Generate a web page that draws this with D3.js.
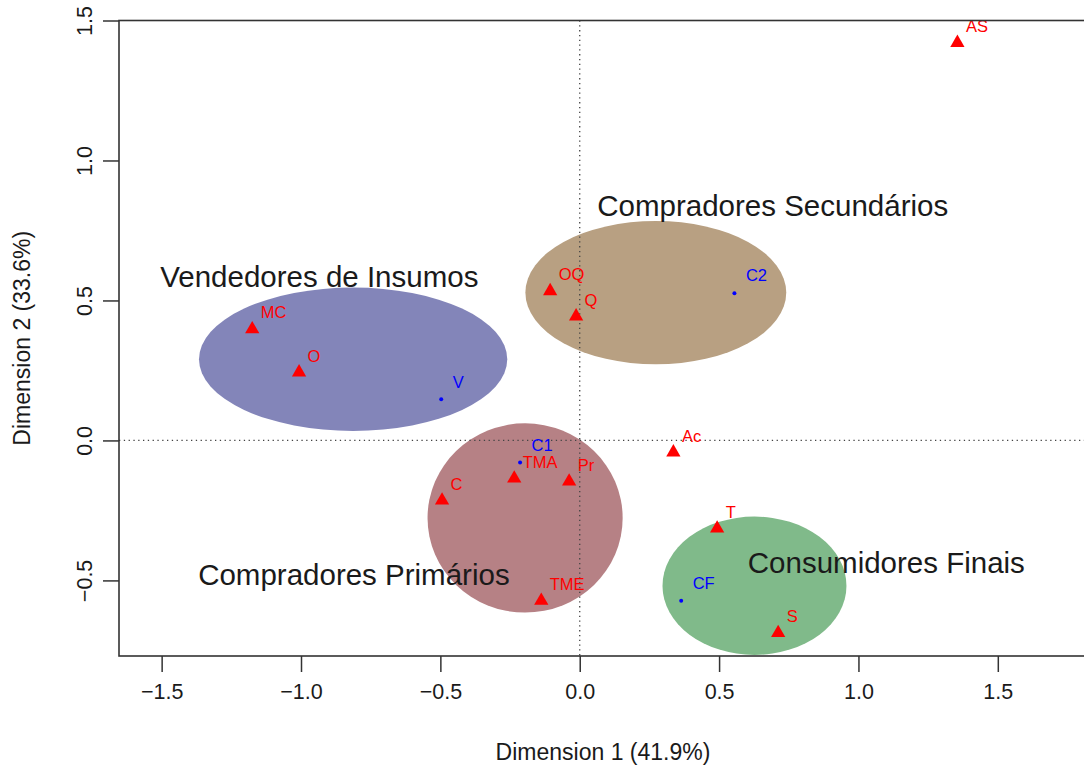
<!DOCTYPE html>
<html>
<head>
<meta charset="utf-8">
<script src="https://cdn.jsdelivr.net/npm/d3@7"></script>
<style>
  html, body { margin: 0; padding: 0; background: #fff; }
  svg { display: block; font-family: "Liberation Sans", Arial, Helvetica, sans-serif; }
</style>
</head>
<body>
<svg id="chart" width="1084" height="769"></svg>
<script>
// Correspondence analysis map: row/column coordinates on the first two dimensions

// Column profiles (red triangles)
const colLabels = ["AS", "MC", "O", "OQ", "Q", "Ac", "TMA", "Pr", "C", "TME", "T", "S"];
const colDim1   = [1.355, -1.175, -1.007, -0.106, -0.013, 0.336, -0.235, -0.038, -0.494, -0.138, 0.493, 0.712];
const colDim2   = [1.424, 0.401, 0.247, 0.537, 0.447, -0.039, -0.132, -0.143, -0.211, -0.569, -0.311, -0.684];

// Row profiles (blue points)
const rowLabels = ["V", "C2", "C1", "CF"];
const rowDim1   = [-0.497, 0.555, -0.214, 0.364];
const rowDim2   = [0.147, 0.526, -0.079, -0.573];

// Groups drawn as ellipses: centre and semi-axes in map units
const groupNames = ["Vendedores de Insumos", "Compradores Secundários", "Compradores Primários", "Consumidores Finais"];
const groupCx    = [-0.813, 0.273, -0.196, 0.627];
const groupCy    = [0.290, 0.528, -0.277, -0.519];
const groupRx    = [0.553, 0.468, 0.350, 0.330];
const groupRy    = [0.256, 0.256, 0.338, 0.247];
const groupFill  = ["#8385b9", "#b8a082", "#b68185", "#80ba8a"];
// Where each group's name is written (map units, text start)
const groupLabX  = [-1.505, 0.063, -1.369, 0.603];
const groupLabY  = [0.585, 0.840, -0.478, -0.438];

const ticks = [-1.5, -1.0, -0.5, 0.0, 0.5, 1.0, 1.5];
const yTicks = [-0.5, 0.0, 0.5, 1.0, 1.5];
const xTitle = "Dimension 1 (41.9%)";
const yTitle = "Dimension 2 (33.6%)";

const svg = d3.select("#chart");
const plotLeft = 119, plotRight = 1087, plotTop = 20.5, plotBottom = 656;

const x = d3.scaleLinear().domain([-1.653, 1.820]).range([plotLeft, plotRight]);
const y = d3.scaleLinear().domain([-0.770, 1.500]).range([plotBottom, plotTop]);

const fmt = v => (v < 0 ? "\u2212" : "") + Math.abs(v).toFixed(1);

// Group ellipses
const groups = groupNames.map((n, i) => ({
  name: n, cx: groupCx[i], cy: groupCy[i], rx: groupRx[i], ry: groupRy[i],
  fill: groupFill[i], lx: groupLabX[i], ly: groupLabY[i]
}));

svg.append("g").selectAll("ellipse").data(groups).join("ellipse")
  .attr("cx", d => x(d.cx))
  .attr("cy", d => y(d.cy))
  .attr("rx", d => x(d.rx) - x(0))
  .attr("ry", d => y(0) - y(d.ry))
  .attr("fill", d => d.fill);

// Origin reference lines
const ref = svg.append("g").attr("stroke", "#444").attr("stroke-width", 1.3)
  .attr("stroke-dasharray", "1.3,3.5");
ref.append("line").attr("x1", plotLeft).attr("x2", plotRight).attr("y1", y(0)).attr("y2", y(0));
ref.append("line").attr("x1", x(0)).attr("x2", x(0)).attr("y1", plotTop).attr("y2", plotBottom);

// Group names
svg.append("g").selectAll("text").data(groups).join("text")
  .attr("x", d => x(d.lx))
  .attr("y", d => y(d.ly))
  .attr("dy", "0.35em")
  .attr("font-size", 29.5)
  .attr("fill", "#1a1a1a")
  .text(d => d.name);

// Column points
const cols = colLabels.map((l, i) => ({ label: l, d1: colDim1[i], d2: colDim2[i] }));
const tri = d3.symbol().type(d3.symbolTriangle).size(88);
svg.append("g").selectAll("path").data(cols).join("path")
  .attr("d", tri)
  .attr("transform", d => `translate(${x(d.d1)},${y(d.d2) + 1})`)
  .attr("fill", "#ff0000");
svg.append("g").selectAll("text").data(cols).join("text")
  .attr("x", d => x(d.d1) + 8.5)
  .attr("y", d => y(d.d2) - 15.5)
  .attr("dy", "0.35em")
  .attr("font-size", 16.5)
  .attr("fill", "#ff0000")
  .text(d => d.label);

// Row points
const rows = rowLabels.map((l, i) => ({ label: l, d1: rowDim1[i], d2: rowDim2[i] }));
svg.append("g").selectAll("circle").data(rows).join("circle")
  .attr("cx", d => x(d.d1))
  .attr("cy", d => y(d.d2))
  .attr("r", 2)
  .attr("fill", "#0000ff");
svg.append("g").selectAll("text").data(rows).join("text")
  .attr("x", d => x(d.d1) + 11.5)
  .attr("y", d => y(d.d2) - 17.5)
  .attr("dy", "0.35em")
  .attr("font-size", 16.5)
  .attr("fill", "#0000ff")
  .text(d => d.label);

// Plot frame
svg.append("rect")
  .attr("x", plotLeft).attr("y", plotTop)
  .attr("width", plotRight - plotLeft).attr("height", plotBottom - plotTop)
  .attr("fill", "none").attr("stroke", "#333").attr("stroke-width", 1.6);

// Axes
const xAxis = svg.append("g").attr("transform", `translate(0,${plotBottom})`)
  .call(d3.axisBottom(x).tickValues(ticks).tickFormat(fmt).tickSize(16).tickPadding(12));
xAxis.select(".domain").remove();
xAxis.selectAll("line").attr("stroke", "#333").attr("stroke-width", 1.5);
xAxis.selectAll("text").attr("font-size", 21.5).attr("fill", "#1a1a1a")
  .attr("font-family", "'Liberation Sans', Arial, sans-serif");

const yAxis = svg.append("g").attr("transform", `translate(${plotLeft},0)`)
  .call(d3.axisLeft(y).tickValues(yTicks).tickFormat(fmt).tickSize(16).tickPadding(0));
yAxis.select(".domain").remove();
yAxis.selectAll("line").attr("stroke", "#333").attr("stroke-width", 1.5);
yAxis.selectAll("text")
  .attr("font-size", 21.5).attr("fill", "#1a1a1a")
  .attr("font-family", "'Liberation Sans', Arial, sans-serif")
  .attr("text-anchor", "middle")
  .attr("x", 0).attr("dy", 0)
  .attr("transform", "translate(-33,0) rotate(-90)")
  .attr("dominant-baseline", "middle");

// Axis titles
svg.append("text")
  .attr("x", (plotLeft + plotRight) / 2).attr("y", 752)
  .attr("dy", "0.35em").attr("text-anchor", "middle")
  .attr("font-size", 23).attr("fill", "#1a1a1a")
  .text(xTitle);
svg.append("text")
  .attr("transform", `translate(22,${(plotTop + plotBottom) / 2}) rotate(-90)`)
  .attr("dy", "0.35em").attr("text-anchor", "middle")
  .attr("font-size", 23).attr("fill", "#1a1a1a")
  .text(yTitle);
</script>
</body>
</html>
